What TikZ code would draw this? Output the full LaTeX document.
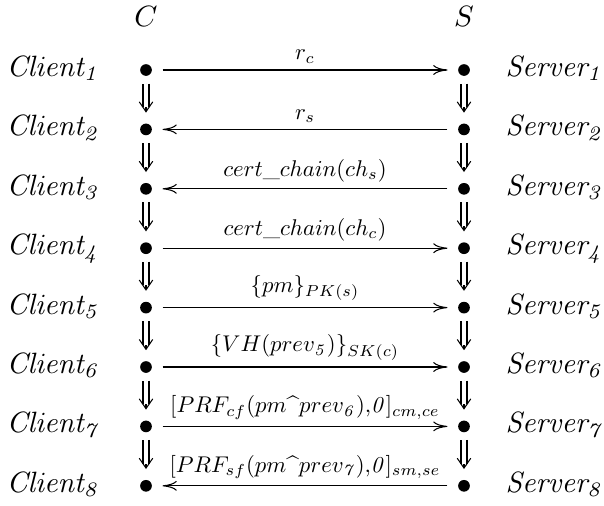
\documentclass[tikz,border=0pt]{standalone}
\usetikzlibrary{arrows.meta}
\begin{document}
\begin{tikzpicture}[x=0.3846pt, y=-0.3846pt,
  dot/.style={circle, fill, inner sep=0pt, minimum size=4.5pt},
  lab/.style={anchor=base west, inner sep=0pt, scale=1.13},
  head/.style={anchor=base, inner sep=0pt, scale=1.13},
  msg/.style={line width=0.4pt, -{Computer Modern Rightarrow[length=5.5pt,width=3.8pt]}, shorten <=3.9pt, shorten >=3.9pt},
  stephead/.style={line width=0.4pt, -{Straight Barb[length=3.8pt,width=5.2pt]}, shorten <=2.75pt, shorten >=4pt},
  stepshaft/.style={double, double distance=1.9pt, line width=0.4pt, shorten <=2.75pt, shorten >=6.1pt},
  mlab/.style={midway, anchor=south, yshift=2.5pt, inner sep=0pt, scale=0.875}]
\useasboundingbox (0,0) rectangle (604,506);
\node[head] (C) at (146,26) {$C$};
\node[head] (S) at (464,26) {$S$};
\foreach \i in {1,...,8}{
  \pgfmathsetmacro\yy{70+59.4*(\i-1)}
  \node[dot] (c\i) at (146,\yy) {};
  \node[dot] (s\i) at (464,\yy) {};
  \node[lab] (cl\i) at (6,\yy+6.5) {$\mathit{Client_{\i}}$};
  \node[lab] (sl\i) at (505,\yy+6.5) {$\mathit{Server_{\i}}$};
}
\foreach \i [evaluate=\i as \j using int(\i+1)] in {1,...,7}{
  \draw[stephead] (c\i) -- (c\j);
  \draw[stepshaft] (c\i) -- (c\j);
  \draw[stephead] (s\i) -- (s\j);
  \draw[stepshaft] (s\i) -- (s\j);
}
\draw[msg] (c1) -- node[mlab]{$r_c$} (s1);
\draw[msg] (s2) -- node[mlab]{$r_s$} (c2);
\draw[msg] (s3) -- node[mlab]{$cert\_chain(ch_s)$} (c3);
\draw[msg] (c4) -- node[mlab]{$cert\_chain(ch_c)$} (s4);
\draw[msg] (c5) -- node[mlab]{$\{pm\}_{PK(s)}$} (s5);
\draw[msg] (c6) -- node[mlab]{$\{VH(prev_{\mathit{5}})\}_{SK(c)}$} (s6);
\draw[msg] (c7) -- node[mlab]{$[PRF_{cf}(pm\mbox{\^{}}prev_{\mathit{6}}){,}\mathit{0}]_{cm,ce}$} (s7);
\draw[msg] (s8) -- node[mlab]{$[PRF_{sf}(pm\mbox{\^{}}prev_{\mathit{7}}){,}\mathit{0}]_{sm,se}$} (c8);
\end{tikzpicture}
\end{document}
